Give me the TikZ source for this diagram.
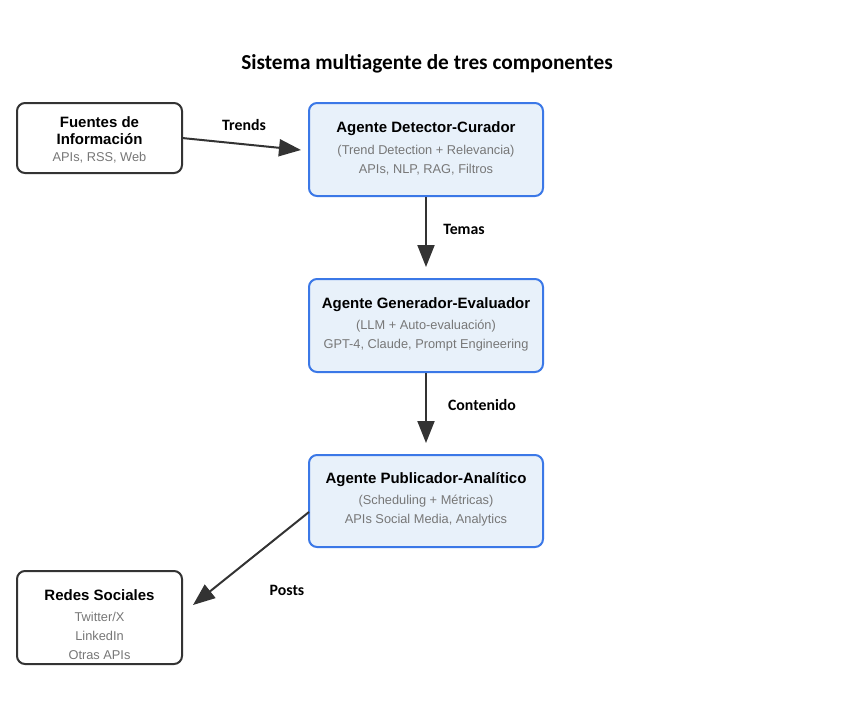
\documentclass[tikz,border=0pt]{standalone}
\usepackage{fontspec}
\setmainfont{Liberation Sans}
\newfontfamily\calfont{Carlito}
\usetikzlibrary{arrows.meta}
\definecolor{bluebd}{HTML}{3B78E7}
\definecolor{bluefill}{HTML}{E8F1FA}
\definecolor{boxgray}{HTML}{333333}
\definecolor{txtgray}{HTML}{777777}
\definecolor{arrowc}{HTML}{333333}
\tikzset{
  agentbox/.style={draw=bluebd, fill=bluefill, line width=2pt, rounded corners=8pt, minimum width=234pt, minimum height=93pt, inner sep=0pt},
  extbox/.style={draw=boxgray, fill=white, line width=2pt, rounded corners=8pt, minimum width=165pt, inner sep=0pt},
  ttl/.style={font=\fontsize{15}{17}\selectfont\bfseries, text=black, align=center, inner sep=0pt},
  sub/.style={font=\fontsize{12.8}{19}\selectfont, text=txtgray, align=center, inner sep=0pt},
  lbl/.style={font=\calfont\fontsize{15.8}{18}\selectfont\bfseries, text=black, inner sep=0pt},
  conn/.style={draw=arrowc, line width=2pt, -{Triangle[length=22pt,width=17pt]}},
}
\begin{document}
\begin{tikzpicture}[x=1pt,y=-1pt]
\useasboundingbox (0,0) rectangle (845,720);
\node[font=\calfont\fontsize{21.3}{24}\selectfont\bfseries] (title) at (427,64) {Sistema multiagente de tres componentes};

\node[extbox, minimum height=70pt] (fu) at (99.5,138) {};
\node[ttl] (fut) at (99.5,131) {Fuentes de\\Información};
\node[sub] (fus) at (99.5,158) {APIs, RSS, Web};

\node[agentbox] (det) at (426,149.5) {};
\node[ttl] (dett) at (426,129) {Agente Detector-Curador};
\node[sub] (dets) at (426,160) {(Trend Detection + Relevancia)\\APIs, NLP, RAG, Filtros};

\node[agentbox] (gen) at (426,325.5) {};
\node[ttl] (gent) at (426,305) {Agente Generador-Evaluador};
\node[sub] (gens) at (426,336) {(LLM + Auto-evaluación)\\GPT-4, Claude, Prompt Engineering};

\node[agentbox, minimum height=92pt] (pub) at (426,501) {};
\node[ttl] (pubt) at (426,480) {Agente Publicador-Analítico};
\node[sub] (pubs) at (426,510.5) {(Scheduling + Métricas)\\APIs Social Media, Analytics};

\node[extbox, minimum height=93pt] (red) at (99.5,617.5) {};
\node[ttl] (redt) at (99.5,595.5) {Redes Sociales};
\node[sub] (reds) at (99.5,636) {Twitter/X\\LinkedIn\\Otras APIs};

\coordinate (tr1) at (182,138);
\coordinate (tr2) at (301,150);
\draw[conn] (tr1) -- (tr2);
\draw[conn, shorten >=11pt] (det.south) -- (gen.north);
\draw[conn, shorten >=11pt] (gen.south) -- (pub.north);
\coordinate (po1) at (309,512);
\coordinate (po2) at (193,605);
\draw[conn] (po1) -- (po2);

\node[lbl] (ltr) at (244,125) {Trends};
\node[lbl] (lte) at (464,229) {Temas};
\node[lbl] (lco) at (482,405) {Contenido};
\node[lbl] (lpo) at (287,590) {Posts};
\end{tikzpicture}
\end{document}
